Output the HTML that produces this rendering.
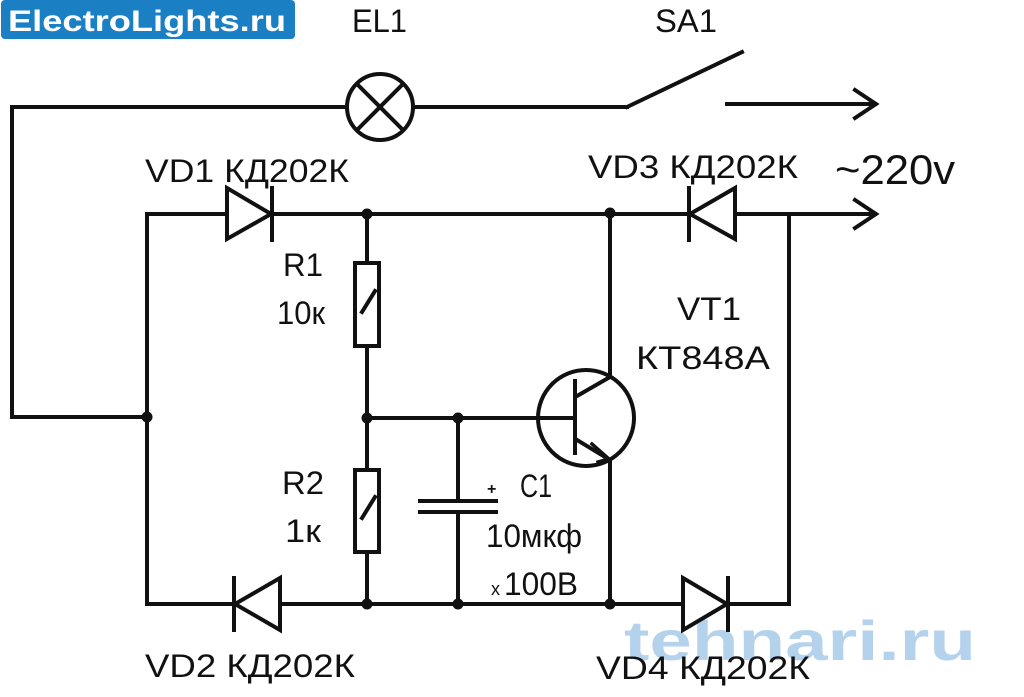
<!DOCTYPE html>
<html><head><meta charset="utf-8"><style>
html,body{margin:0;padding:0;background:#fff;}
svg{display:block;}
text{font-family:"Liberation Sans","DejaVu Sans",sans-serif;fill:#111;}
</style></head><body>
<svg width="1024" height="697" viewBox="0 0 1024 697" xmlns="http://www.w3.org/2000/svg">
<rect x="0" y="0" width="1024" height="697" fill="#fff"/>
<!-- logo -->
<rect x="1" y="0" width="294" height="39" rx="4" fill="#1b7fc4"/>
<text x="8" y="31" font-size="30" font-weight="bold" style="fill:#fff" textLength="278" lengthAdjust="spacingAndGlyphs">ElectroLights.ru</text>
<!-- watermark -->
<text x="624" y="660" font-size="56" font-weight="bold" style="fill:#a9cbea;opacity:0.85" textLength="352" lengthAdjust="spacingAndGlyphs">tehnari.ru</text>

<g stroke="#111" stroke-width="4" fill="none" stroke-linecap="square">
<!-- top loop -->
<polyline points="147,417 12,417 12,107 347,107"/>
<circle cx="380" cy="107" r="33"/>
<line x1="357" y1="84" x2="403" y2="130"/>
<line x1="403" y1="84" x2="357" y2="130"/>
<line x1="413" y1="107" x2="627" y2="107"/>
<line x1="627" y1="107" x2="742" y2="52"/>
<line x1="727" y1="104" x2="875" y2="104"/>
<polyline points="855,90 876,104 855,118"/>
<!-- top rail -->
<line x1="147" y1="214" x2="875" y2="214"/>
<polyline points="855,200 876,214 855,228"/>
<!-- VD1 right -->
<polygon points="227,188 227,239 271,214" fill="#fff"/>
<line x1="272" y1="188" x2="272" y2="240"/>
<!-- VD3 left -->
<polygon points="735,188 735,239 690,214" fill="#fff"/>
<line x1="689" y1="188" x2="689" y2="240"/>
<!-- verticals -->
<line x1="147" y1="214" x2="147" y2="604"/>
<line x1="789" y1="214" x2="789" y2="604"/>
<line x1="367" y1="214" x2="367" y2="604"/>
<line x1="610" y1="214" x2="610" y2="377"/>
<line x1="610" y1="460" x2="610" y2="604"/>
<!-- bottom rail -->
<line x1="147" y1="604" x2="789" y2="604"/>
<!-- VD2 left -->
<polygon points="280,578 280,630 235,604" fill="#fff"/>
<line x1="234" y1="578" x2="234" y2="630"/>
<!-- VD4 right -->
<polygon points="683,578 683,630 727,604" fill="#fff"/>
<line x1="728" y1="578" x2="728" y2="630"/>
<!-- R1,R2 -->
<rect x="355" y="263" width="24" height="83" fill="#fff"/>
<line x1="362" y1="312" x2="375" y2="291"/>
<rect x="355" y="470" width="24" height="82" fill="#fff"/>
<line x1="362" y1="518" x2="375" y2="497"/>
<!-- base line -->
<line x1="367" y1="418" x2="574" y2="418"/>
<!-- capacitor -->
<line x1="458" y1="418" x2="458" y2="501"/>
<line x1="458" y1="512" x2="458" y2="604"/>
<line x1="420" y1="501" x2="496" y2="501"/>
<line x1="420" y1="512" x2="496" y2="512"/>
<!-- transistor -->
<circle cx="586" cy="418" r="48"/>
<line x1="575" y1="381" x2="575" y2="453"/>
<line x1="577" y1="396" x2="610" y2="377"/>
<line x1="577" y1="440" x2="610" y2="460"/>
<polyline points="592,444 609,459 598,462" stroke-width="3.5"/>
</g>
<g fill="#111">
<circle cx="147" cy="417" r="5.5"/>
<circle cx="367" cy="214" r="5.5"/>
<circle cx="610" cy="213" r="5.5"/>
<circle cx="367" cy="418" r="5.5"/>
<circle cx="458" cy="418" r="5.5"/>
<circle cx="367" cy="604" r="5.5"/>
<circle cx="458" cy="604" r="5.5"/>
<circle cx="610" cy="604" r="5.5"/>
</g>
<text x="487" y="494" font-size="16" font-weight="bold">+</text>

<text x="352" y="32" font-size="32" textLength="55" lengthAdjust="spacingAndGlyphs">EL1</text>
<text x="655" y="32" font-size="32" textLength="62" lengthAdjust="spacingAndGlyphs">SA1</text>
<text x="145" y="182" font-size="32" textLength="204" lengthAdjust="spacingAndGlyphs">VD1 КД202К</text>
<text x="588" y="178" font-size="32" textLength="210" lengthAdjust="spacingAndGlyphs">VD3 КД202К</text>
<text x="835" y="184" font-size="42" textLength="120" lengthAdjust="spacingAndGlyphs">~220v</text>
<text x="283" y="276" font-size="32" textLength="40" lengthAdjust="spacingAndGlyphs">R1</text>
<text x="277" y="324" font-size="32" textLength="48" lengthAdjust="spacingAndGlyphs">10к</text>
<text x="677" y="320" font-size="32" textLength="64" lengthAdjust="spacingAndGlyphs">VT1</text>
<text x="636" y="369" font-size="32" textLength="134" lengthAdjust="spacingAndGlyphs">КТ848А</text>
<text x="282" y="494" font-size="32" textLength="42" lengthAdjust="spacingAndGlyphs">R2</text>
<text x="285" y="542" font-size="32" textLength="36" lengthAdjust="spacingAndGlyphs">1к</text>
<text x="520" y="497" font-size="32" textLength="32" lengthAdjust="spacingAndGlyphs">C1</text>
<text x="486" y="547" font-size="32" textLength="96" lengthAdjust="spacingAndGlyphs">10мкф</text>
<text x="491" y="595" font-size="18">x</text>
<text x="504" y="595" font-size="32" textLength="74" lengthAdjust="spacingAndGlyphs">100В</text>
<text x="145" y="677" font-size="32" textLength="210" lengthAdjust="spacingAndGlyphs">VD2 КД202К</text>
<text x="596" y="679" font-size="32" textLength="214" lengthAdjust="spacingAndGlyphs">VD4 КД202К</text>
</svg>
</body></html>
